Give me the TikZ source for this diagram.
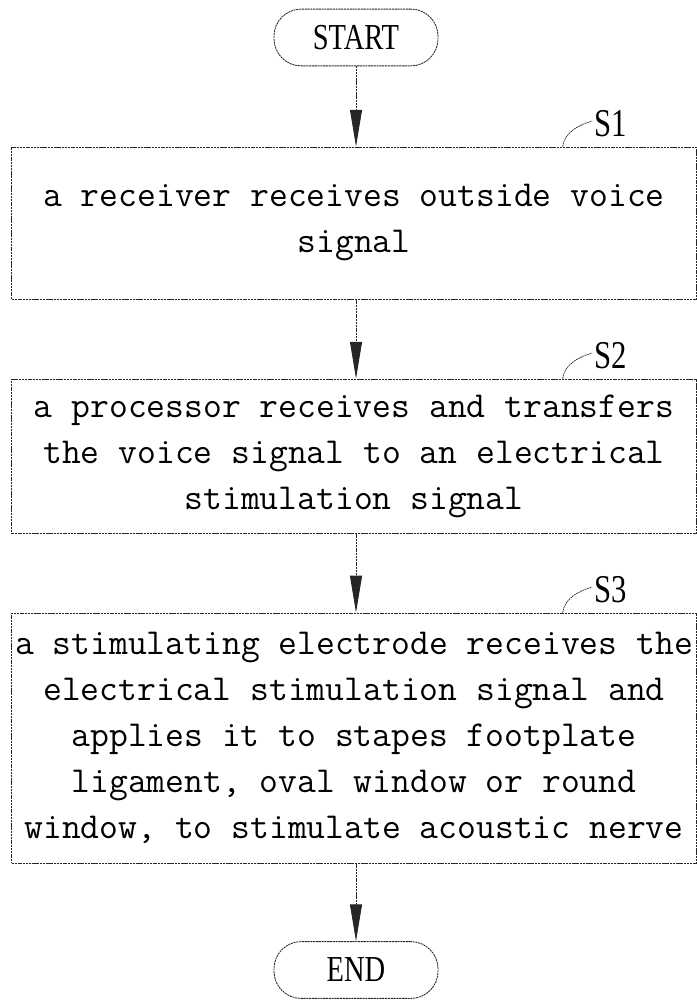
\documentclass[tikz,border=0pt]{standalone}
\usepackage{fontspec}
\newfontfamily\lblfont[FakeStretch=0.78]{Liberation Serif}
\usetikzlibrary{arrows.meta}
\begin{document}
\begin{tikzpicture}[x=0.025cm,y=-0.025cm,
  line/.style={draw=black!85, line width=0.6pt, dash pattern=on 1.5pt off 0.5pt},
  stepbox/.style={line, rectangle, inner sep=0pt, minimum width=17.1cm,
    font=\ttfamily\fontsize{26}{32.7}\selectfont, align=center},
  term/.style={line, rectangle, rounded corners=0.68cm, minimum width=4.1cm,
    minimum height=1.42cm, font=\lblfont\fontsize{26}{28}\selectfont},
  arr/.style={line, -{Triangle[length=0.92cm,width=0.3cm]}},
  lbl/.style={font=\lblfont\fontsize{28}{30}\selectfont, anchor=base west, inner sep=0pt},
  leader/.style={draw=black!85, line width=0.5pt, dash pattern=on 1.2pt off 0.5pt},
]
\useasboundingbox (0,0) rectangle (697,1000);

\node[term] (start) at (356,37.5) {START};
\node[stepbox, minimum height=3.8cm] (s1) at (354,223)
  {a receiver receives outside voice\\signal};
\node[stepbox, minimum height=3.85cm] (s2) at (354,456)
  {a processor receives and transfers\\the voice signal to an electrical\\stimulation signal};
\node[stepbox, minimum height=6.25cm] (s3) at (354,738)
  {a stimulating electrode receives the\\electrical stimulation signal and\\applies it to stapes footplate\\ligament, oval window or round\\window, to stimulate acoustic nerve};
\node[term] (end) at (356,970) {END};

\draw[arr] (start.south) -- (start.south |- s1.north);
\draw[arr] (s1.south -| start.south) -- (start.south |- s2.north);
\draw[arr] (s2.south -| start.south) -- (start.south |- s3.north);
\draw[arr] (s3.south -| start.south) -- (end.north);

\node[lbl] (l1) at (594,136) {S1};
\node[lbl] (l2) at (594,368) {S2};
\node[lbl] (l3) at (594,602) {S3};

\coordinate (k1) at ([xshift=13.775cm]s1.north west);
\coordinate (k2) at ([xshift=13.775cm]s2.north west);
\coordinate (k3) at ([xshift=13.775cm]s3.north west);
\draw[leader] (k1) .. controls +(2,-14) and +(-14,4) .. ([xshift=-0.05cm,yshift=0.05cm]l1.west);
\draw[leader] (k2) .. controls +(2,-14) and +(-14,4) .. ([xshift=-0.05cm,yshift=0.05cm]l2.west);
\draw[leader] (k3) .. controls +(2,-14) and +(-14,4) .. ([xshift=-0.05cm,yshift=0.05cm]l3.west);
\end{tikzpicture}
\end{document}
